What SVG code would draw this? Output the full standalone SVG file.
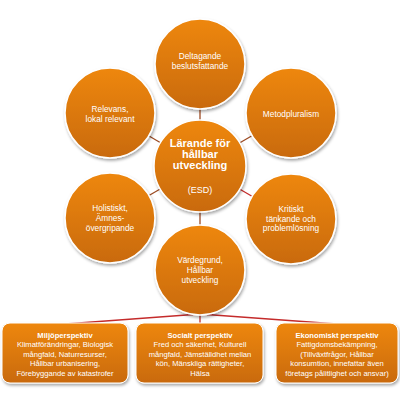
<svg xmlns="http://www.w3.org/2000/svg" width="400" height="400" viewBox="0 0 400 400">
<defs>
<linearGradient id="og" x1="0" y1="0" x2="0" y2="1">
<stop offset="0" stop-color="#EE870E"/>
<stop offset="1" stop-color="#C96A0A"/>
</linearGradient>
<filter id="sh" x="-20%" y="-20%" width="150%" height="150%">
<feDropShadow dx="1" dy="2" stdDeviation="1.8" flood-color="#000" flood-opacity="0.35"/>
</filter>
<style>
.c{fill:url(#og);stroke:#fff;stroke-width:1.5;filter:url(#sh)}
.b{fill:url(#og);stroke:#fff;stroke-width:1;filter:url(#sh)}
text{font-family:"Liberation Sans",Arial,sans-serif;fill:#fff;text-anchor:middle}
.t{font-size:8.3px}
.m{font-size:11px;font-weight:bold}
.s{font-size:7.6px}
.sb{font-size:7.6px;font-weight:bold}
.br{stroke:#9C4A22;stroke-width:1.3;fill:none}
.rd{stroke:#C42B2B;stroke-width:1.3;fill:none}
</style>
</defs>
<rect width="400" height="400" fill="#fff"/>
<g id="connectors">
<line class="br" x1="200" y1="166" x2="200" y2="64"/>
<line class="br" x1="200" y1="166" x2="110" y2="113"/>
<line class="br" x1="200" y1="166" x2="291" y2="113"/>
<line class="br" x1="200" y1="166" x2="110" y2="218"/>
<line class="rd" x1="200" y1="166" x2="291" y2="219"/>
<line class="br" x1="200" y1="166" x2="200" y2="270"/>
<line class="rd" x1="200" y1="314" x2="65" y2="324"/>
<line class="rd" x1="200" y1="314" x2="200" y2="324"/>
<line class="rd" x1="200" y1="314" x2="337" y2="324"/>
</g>
<g id="n-deltagande">
<circle class="c" cx="200" cy="64" r="45"/>
<text class="t" x="200" y="59">Deltagande</text>
<text class="t" x="200" y="69">beslutsfattande</text>
</g>
<g id="n-relevans">
<circle class="c" cx="110" cy="113" r="45"/>
<text class="t" x="110" y="112">Relevans,</text>
<text class="t" x="110" y="122">lokal relevant</text>
</g>
<g id="n-metod">
<circle class="c" cx="291" cy="113" r="45"/>
<text class="t" x="291" y="117">Metodpluralism</text>
</g>
<g id="n-holistiskt">
<circle class="c" cx="110" cy="218" r="45"/>
<text class="t" x="110" y="211">Holistiskt,</text>
<text class="t" x="110" y="221">Ämnes-</text>
<text class="t" x="110" y="231">övergripande</text>
</g>
<g id="n-kritiskt">
<circle class="c" cx="291" cy="219" r="45"/>
<text class="t" x="291" y="212">Kritiskt</text>
<text class="t" x="291" y="222">tänkande och</text>
<text class="t" x="291" y="231">problemlösning</text>
</g>
<g id="n-center">
<circle class="c" cx="200" cy="166" r="46"/>
<text class="m" x="200" y="147">Lärande för</text>
<text class="m" x="200" y="158">hållbar</text>
<text class="m" x="200" y="169">utveckling</text>
<text style="font-size:9px" x="200" y="193">(ESD)</text>
</g>
<g id="n-vardegrund">
<circle class="c" cx="200" cy="270" r="45"/>
<text class="t" x="200" y="263">Värdegrund,</text>
<text class="t" x="200" y="273">Hållbar</text>
<text class="t" x="200" y="283">utveckling</text>
</g>
<g id="n-miljo">
<rect class="b" x="2" y="323" width="126" height="60" rx="8"/>
<text class="sb" x="65" y="337.5">Miljöperspektiv</text>
<text class="s" x="65" y="347">Klimatförändringar, Biologisk</text>
<text class="s" x="65" y="356.5">mångfald, Naturresurser,</text>
<text class="s" x="65" y="366">Hållbar urbanisering,</text>
<text class="s" x="65" y="375.5">Förebyggande av katastrofer</text>
</g>
<g id="n-socialt">
<rect class="b" x="136" y="323" width="127" height="60" rx="8"/>
<text class="sb" x="200" y="337.5">Socialt perspektiv</text>
<text class="s" x="200" y="347">Fred och säkerhet, Kulturell</text>
<text class="s" x="200" y="356.5">mångfald, Jämställdhet mellan</text>
<text class="s" x="200" y="366">kön, Mänskliga rättigheter,</text>
<text class="s" x="200" y="375.5">Hälsa</text>
</g>
<g id="n-ekonomiskt">
<rect class="b" x="276" y="323" width="122" height="60" rx="8"/>
<text class="sb" x="337" y="337.5">Ekonomiskt perspektiv</text>
<text class="s" x="337" y="347">Fattigdomsbekämpning,</text>
<text class="s" x="337" y="356.5">(Tillväxtfrågor, Hållbar</text>
<text class="s" x="337" y="366">konsumtion, innefattar även</text>
<text class="s" x="337" y="375.5">företags pålitlighet och ansvar)</text>
</g>
</svg>
